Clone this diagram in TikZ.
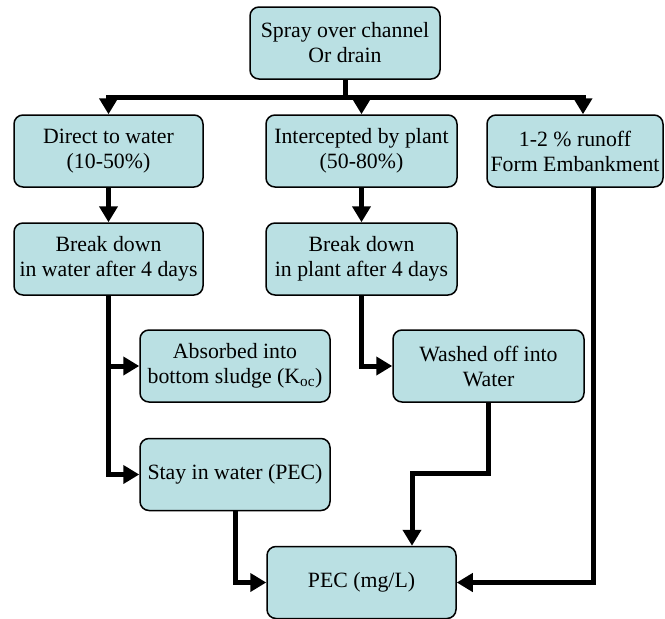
\documentclass[tikz,border=0pt]{standalone}
\usepackage{fontspec}
\setmainfont{Liberation Serif}
\newfontfamily\tnr{Liberation Serif}
\usetikzlibrary{arrows.meta}
\definecolor{boxfill}{RGB}{186,224,227}
\begin{document}
\begin{tikzpicture}[x=1pt,y=-1pt,
  box/.style={draw=black, line width=1.5pt, rounded corners=9pt, fill=boxfill,
    minimum width=190pt, minimum height=72pt, align=center, inner sep=0pt,
    font=\tnr\fontsize{21.8}{25}\selectfont},
  link/.style={line width=5pt},
  arr/.style={line width=5pt, -{Triangle[length=16pt,width=18pt]}}]
\useasboundingbox (0,0) rectangle (665,619);
\node[box] (top) at (345,43) {Spray over channel\\Or drain};
\node[box, minimum width=189pt] (d2w) at (108.5,151) {Direct to water\\(10-50\%)};
\node[box, minimum width=191pt] (ibp) at (361.5,151) {Intercepted by plant\\(50-80\%)};
\node[box, minimum width=176pt] (run) at (575,151) {1-2 \% runoff\\Form Embankment};
\node[box, minimum width=189pt] (bdw) at (108.5,259) {Break down\\in water after 4 days};
\node[box, minimum width=191pt] (bdp) at (361.5,259) {Break down\\in plant after 4 days};
\node[box] (abs) at (235,366) {Absorbed into\\bottom sludge (K\textsubscript{oc})};
\node[box, minimum width=191pt] (wash) at (488.5,366) {Washed off into\\Water};
\node[box] (stay) at (235,474.5) {Stay in water (PEC)};
\node[box, minimum width=189pt] (pec) at (361.5,582.5) {PEC (mg/L)};
\coordinate (bar) at (345,97);
\coordinate (jog) at (412,473);
\draw[link] (top.south) -- (bar);
\draw[arr] (bar) -| (d2w.north);
\draw[arr] (bar) -| ([xshift=8pt]run.north);
\draw[arr] (ibp.north |- bar) -- (ibp.north);
\draw[arr] (d2w.south) -- (bdw.north);
\draw[arr] (ibp.south) -- (bdp.north);
\draw[arr] (bdw.south) |- (stay.west);
\draw[arr] (bdw.south |- abs.west) -- (abs.west);
\draw[arr] (bdp.south) |- (wash.west);
\draw[arr] (wash.south) |- (jog) -- (jog |- pec.north);
\draw[arr] (stay.south) |- (pec.west);
\draw[arr] ([xshift=18pt]run.south) |- (pec.east);
\end{tikzpicture}
\end{document}
